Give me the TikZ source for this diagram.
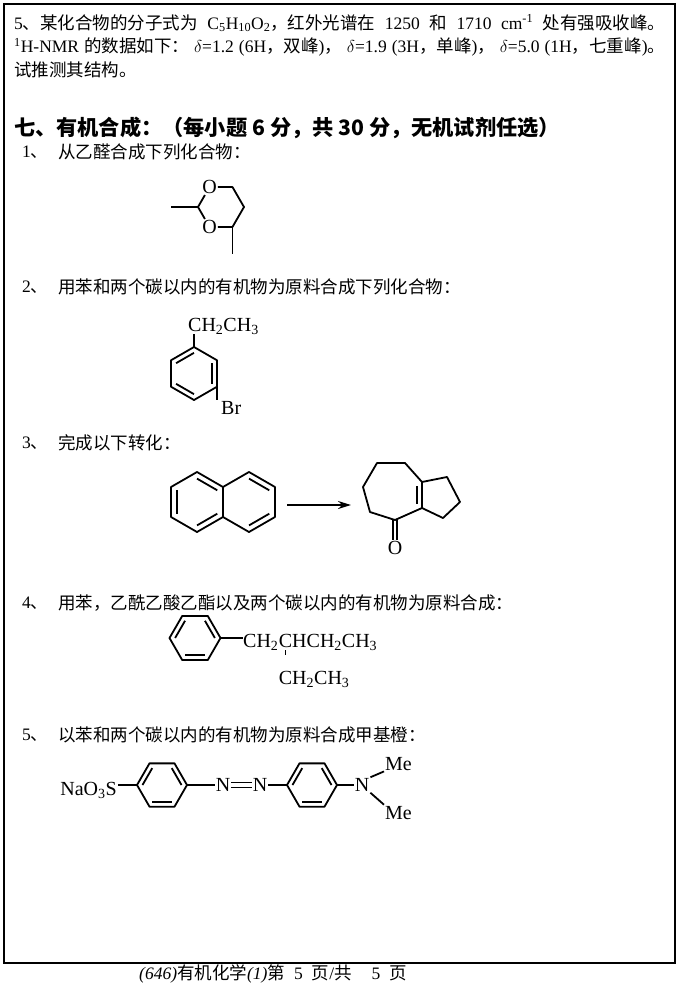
\documentclass[tikz,border=0pt]{standalone}
\usepackage{fontspec}
\setmainfont{Liberation Serif}
\newfontfamily\cjk{Noto Sans CJK SC}
\usetikzlibrary{calc,arrows.meta}
\tikzset{
	txt/.style={anchor=west,inner sep=0pt,font=\fontsize{17.5}{20}\selectfont},
	atom/.style={inner sep=1pt,font=\fontsize{20}{22}\selectfont},
	bond/.style={line width=1.8pt,line join=round},
}
\begin{document}
\begin{tikzpicture}[x=1pt,y=-1pt,>={Stealth[length=13pt,width=8pt]}]
	\useasboundingbox (0,0) rectangle (680,988);
	\draw[line width=1.8pt] (4,4) rectangle (675,963);
	\node[txt] (l1) at (14,23) {\makebox[651pt][s]{5{\cjk 、某化合物的分子式为} C\textsubscript{5}H\textsubscript{10}O\textsubscript{2}{\cjk ，红外光谱在} 1250 {\cjk 和} 1710 cm\textsuperscript{-1} {\cjk 处有强吸收峰。}}};
	\node[txt] (l2) at (14,47) {\makebox[651pt][s]{\textsuperscript{1}H-NMR {\cjk 的数据如下：} $\delta$=1.2 (6H{\cjk ，双峰}){\cjk ，} $\delta$=1.9 (3H{\cjk ，单峰}){\cjk ，} $\delta$=5.0 (1H{\cjk ，七重峰}){\cjk 。}}};
	\node[txt] (l3) at (14,70) {\cjk 试推测其结构。};
	\node[txt,font=\fontsize{21.2}{24}\selectfont\cjk\bfseries] (sec) at (14,128) {七、有机合成：（每小题 6 分，共 30 分，无机试剂任选）};
	\foreach \i/\y/\t in {1/152/从乙醛合成下列化合物：,2/287/用苯和两个碳以内的有机物为原料合成下列化合物：,3/443/完成以下转化：,4/603/用苯，乙酰乙酸乙酯以及两个碳以内的有机物为原料合成：,5/735/以苯和两个碳以内的有机物为原料合成甲基橙：}{
		\node[txt] (num\i) at (22,\y) {\i{\cjk 、}};
		\node[txt] (item\i) at (58,\y) {\cjk \t};
	}
	% 1
	\coordinate (dx) at (221,207);
	\foreach \a/\m in {0/c5,60/c4,120/o3,180/c2,240/o1,300/c6}
		\coordinate (\m) at ($(dx)+(\a:23)$);
	\node[atom] (o1n) at (o1) {O};
	\node[atom] (o3n) at (o3) {O};
	\coordinate (m1) at ($(c2)+(-27,0)$);
	\coordinate (m2) at ($(c4)+(0,27)$);
	\draw[bond] (m1) -- (c2) -- (o1n) -- (c6) -- (c5) -- (c4) -- (o3n) -- (c2);
	\draw[bond] (c4) -- (m2);
	% 2
	\coordinate (bz) at (194,373.5);
	\foreach \a/\m in {270/e1,330/e2,30/e3,90/e4,150/e5,210/e6}
		\coordinate (\m) at ($(bz)+(\a:26.5)$);
	\draw[bond] (e1) -- (e2) -- (e3) -- (e4) -- (e5) -- (e6) -- cycle;
	\foreach \p/\q in {e2/e3,e4/e5,e6/e1}
		\draw[bond] ($(bz)!0.78!(\p)$) -- ($(bz)!0.78!(\q)$);
	\node[atom,anchor=base west] (et) at (187,331.5) {CH\textsubscript{2}CH\textsubscript{3}};
	\node[atom,anchor=base west] (br) at (220,414) {Br};
	\draw[bond,shorten >=2pt] (e1) -- (e1 |- et.base);
	\draw[bond] (e3) -- (e3 |- br.north);
	% 3
	\coordinate (na) at (197,502);
	\coordinate (nb) at (249,502);
	\foreach \a/\m in {270/1,330/2,30/3,90/4,150/5,210/6}{
		\coordinate (a\m) at ($(na)+(\a:30)$);
		\coordinate (b\m) at ($(nb)+(\a:30)$);
	}
	\draw[bond] (a1) -- (a2) -- (a3) -- (a4) -- (a5) -- (a6) -- cycle;
	\draw[bond] (a2) -- (b1) -- (b2) -- (b3) -- (b4) -- (a3);
	\foreach \p/\q in {a1/a2,a3/a4,a5/a6}
		\draw[bond] ($(na)!0.78!(\p)$) -- ($(na)!0.78!(\q)$);
	\foreach \p/\q in {b1/b2,b3/b4}
		\draw[bond] ($(nb)!0.78!(\p)$) -- ($(nb)!0.78!(\q)$);
	\coordinate (ar1) at (287,505);
	\coordinate (ar2) at (351,505);
	\draw[bond,->] (ar1) -- (ar2);
	\foreach \m/\x/\y in {p1/377/463,p2/405/463,p3/422/482,p4/422/508,p5/395/520,p6/370/512,p7/363/487,q1/447/477,q2/460/502,q3/443/518}
		\coordinate (\m) at (\x,\y);
	\draw[bond] (p1) -- (p2) -- (p3) -- (p4) -- (p5) -- (p6) -- (p7) -- cycle;
	\draw[bond] (p3) -- (q1) -- (q2) -- (q3) -- (p4);
	\draw[bond] ($(p3)+(-5,4)$) -- ($(p4)+(-5,-4)$);
	\node[atom] (ox) at (395,548) {O};
	\foreach \s in {-1.9,1.9}
		\draw[bond] ([xshift=\s pt]p5) -- ([xshift=\s pt]ox.north);
	% 4
	\coordinate (bp) at (195,638);
	\foreach \a/\m in {0/f1,60/f2,120/f3,180/f4,240/f5,300/f6}
		\coordinate (\m) at ($(bp)+(\a:25.5)$);
	\draw[bond] (f1) -- (f2) -- (f3) -- (f4) -- (f5) -- (f6) -- cycle;
	\foreach \p/\q in {f4/f5,f6/f1,f2/f3}
		\draw[bond] ($(bp)!0.78!(\p)$) -- ($(bp)!0.78!(\q)$);
	\node[atom,anchor=base west,inner xsep=0pt] (ch2a) at (243,647) {CH\textsubscript{2}};
	\node[atom,anchor=base west,inner xsep=0pt] (chb) at (ch2a.base east) {CHCH\textsubscript{2}CH\textsubscript{3}};
	\node[atom,anchor=base west,inner xsep=0pt] (chc) at ([yshift=-37pt]chb.base west) {CH\textsubscript{2}CH\textsubscript{3}};
	\draw[bond] (f1) -- (f1 -| ch2a.west);
	\draw[line width=1pt] ([xshift=7pt,yshift=-3pt]chb.base west) -- ([xshift=7pt,yshift=-8pt]chb.base west);
	% 5
	\node[atom,anchor=base east] (so3) at (118,795) {NaO\textsubscript{3}S};
	\coordinate (g) at (162,785);
	\coordinate (h) at (312,785);
	\foreach \a/\m in {0/1,60/2,120/3,180/4,240/5,300/6}{
		\coordinate (g\m) at ($(g)+(\a:25)$);
		\coordinate (h\m) at ($(h)+(\a:25)$);
	}
	\draw[bond] (g1) -- (g2) -- (g3) -- (g4) -- (g5) -- (g6) -- cycle;
	\draw[bond] (h1) -- (h2) -- (h3) -- (h4) -- (h5) -- (h6) -- cycle;
	\foreach \p/\q in {4/5,6/1,2/3}{
		\draw[bond] ($(g)!0.78!(g\p)$) -- ($(g)!0.78!(g\q)$);
		\draw[bond] ($(h)!0.78!(h\p)$) -- ($(h)!0.78!(h\q)$);
	}
	\node[atom] (na1) at (223,785) {N};
	\node[atom] (na2) at (260,785) {N};
	\node[atom] (nme) at (362,785) {N};
	\node[atom,anchor=base west] (me1) at (384,770) {Me};
	\node[atom,anchor=base west] (me2) at (384,819) {Me};
	\draw[bond] (g4) -- (g4 -| so3.east);
	\draw[bond] (g1) -- (na1);
	\draw[bond] ([yshift=2.5pt]na1.east) -- ([yshift=2.5pt]na2.west);
	\draw[bond] ([yshift=-2.5pt]na1.east) -- ([yshift=-2.5pt]na2.west);
	\draw[bond] (na2) -- (h4);
	\draw[bond] (h1) -- (nme);
	\draw[bond] (nme.north east) -- (me1.south west);
	\draw[bond] (nme.south east) -- (me2.north west);
	\node[txt,font=\fontsize{17.5}{20}\selectfont] (foot) at (139,974) {\textit{(646)}{\cjk 有机化学}\textit{(1)}{\cjk 第}\hspace{9pt}5\hspace{9pt}{\cjk 页}/{\cjk 共}\hspace{20pt}5\hspace{9pt}{\cjk 页}};
\end{tikzpicture}
\end{document}
